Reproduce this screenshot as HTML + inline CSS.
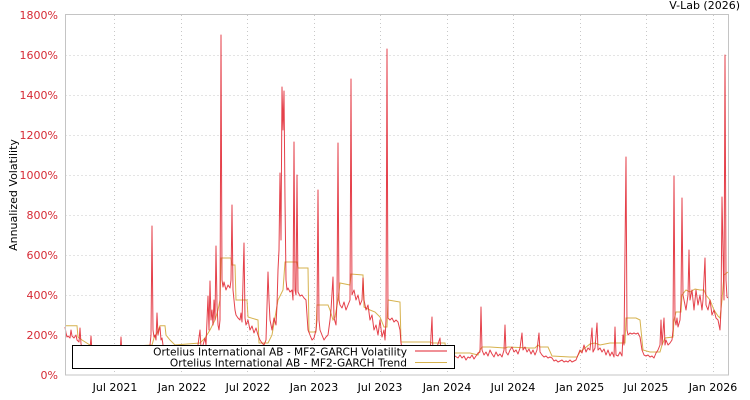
<!DOCTYPE html>
<html><head><meta charset="utf-8"><style>
html,body{margin:0;padding:0;background:#fff;}
svg{display:block;font-family:"DejaVu Sans","Liberation Sans",sans-serif;}
</style></head><body>
<svg width="750" height="400" viewBox="0 0 750 400" xmlns="http://www.w3.org/2000/svg">
<rect width="750" height="400" fill="#fff"/>
<text x="740" y="9" font-size="11" text-anchor="end" fill="#000">V-Lab (2026)</text>
<g stroke="#c8c8c8" stroke-width="1" stroke-dasharray="1,3">
<line x1="65.5" x2="728" y1="55.5" y2="55.5"/><line x1="65.5" x2="728" y1="95.5" y2="95.5"/>
<line x1="65.5" x2="728" y1="135.5" y2="135.5"/><line x1="65.5" x2="728" y1="175.5" y2="175.5"/>
<line x1="65.5" x2="728" y1="215.5" y2="215.5"/><line x1="65.5" x2="728" y1="255.5" y2="255.5"/>
<line x1="65.5" x2="728" y1="295.5" y2="295.5"/><line x1="65.5" x2="728" y1="335.5" y2="335.5"/>
<line x1="114.5" x2="114.5" y1="15" y2="375"/><line x1="181.5" x2="181.5" y1="15" y2="375"/>
<line x1="247.5" x2="247.5" y1="15" y2="375"/><line x1="314.5" x2="314.5" y1="15" y2="375"/>
<line x1="380.5" x2="380.5" y1="15" y2="375"/><line x1="447.5" x2="447.5" y1="15" y2="375"/>
<line x1="513.5" x2="513.5" y1="15" y2="375"/><line x1="580.5" x2="580.5" y1="15" y2="375"/>
<line x1="646.5" x2="646.5" y1="15" y2="375"/><line x1="713.5" x2="713.5" y1="15" y2="375"/>
</g>
<polyline fill="none" stroke="#d6b24e" stroke-width="1" points="65,325.7 77,325.7 78,337 82,340 90,345 100,348 152,345 154,338 157,333 160,325.7 165,325.7 166,335 170,340 175,345 200,343 205,338 210,330 215,320 218,310 220,300 221,258 231,258 232,265 235,265 236,300 247,300 248,317 258,320 259,343 268,343 272,335 278,300 283,290 285,262 297,262 298,268 308,268 309,332 316,332 317,305 328,305 330,310 333,320 335,317 338,300 340,283 350,285 351,274 363,275 364,307 370,310 375,312 380,317 384,327 387,327 388,300 400,302 401,342 430,342 432,343 445,343 446,352 455,353 470,353 478,355 480,350 482,347 490,347 505,348 508,347 530,348 535,348 538,345 540,347 548,347 552,356 570,357 577,357 580,352 585,348 590,344 595,343 600,345 605,344 610,343 615,343 620,343 625,343 626,318 636,318 640,320 643,350 650,352 660,352 662,345 665,338 673,337 674,320 676,312 681,312 682,295 686,290 690,292 695,289 700,290 704,290 706,295 710,300 714,310 718,316 720,318 722,300 724,275 728,272"/>
<polyline fill="none" stroke="#e0202c" stroke-opacity="0.85" stroke-width="1" stroke-linejoin="round" points="65,327 66,333 67,337 68,336 70,338 71,330 72,336 74,338 76,335 77,340 79,342 80,328 81,344 83,350 85,352 88,355 90,350 91,336 92,352 95,355 100,357 105,358 110,356 115,357 120,355 121,337 122,355 125,358 130,357 135,359 140,357 145,356 148,352 150,345 151,335 152,226 153,330 154,337 155,335 156,340 157,313 158,335 159,330 160,327 161,340 162,338 163,345 165,350 168,352 172,355 180,357 190,355 195,352 198,345 200,330 201,348 203,345 205,338 206,345 208,296 209,330 210,281 211,320 212,310 213,325 214,300 215,320 216,246 217,305 218,325 219,330 220,320 221,35 222,280 223,287 224,282 226,290 228,285 230,288 231,280 232,205 233,290 234,300 235,310 236,315 238,318 240,320 241,313 242,322 244,243 245,318 246,325 248,320 250,330 252,326 254,333 256,328 258,335 260,340 262,343 264,345 266,340 268,272 269,300 270,320 272,330 274,318 276,325 277,305 278,270 279,250 280,173 281,240 282,87 283,130 284,91 285,200 286,280 287,290 288,288 290,292 292,290 293,300 294,142 295,290 296,295 297,175 298,292 300,296 302,295 304,298 306,300 308,330 310,335 312,340 314,338 316,330 317,320 318,190 319,320 320,330 322,335 324,340 326,337 328,335 330,320 331,310 333,277 334,318 336,325 337,300 338,143 339,300 340,305 342,308 344,302 346,310 348,305 350,300 351,79 352,295 354,290 356,300 358,295 360,305 362,300 363,278 364,300 366,310 368,305 370,320 372,315 374,330 376,325 378,335 380,320 382,337 384,330 385,340 386,320 387,49 388,318 390,320 392,318 394,322 396,320 398,322 400,330 401,343 403,352 405,355 410,358 415,357 420,358 425,356 430,355 432,317 433,355 436,350 440,338 441,352 445,356 450,357 455,356 458,358 460,355 462,358 464,356 466,360 468,357 470,358 472,355 474,359 476,356 478,353 480,352 481,307 482,350 484,355 486,352 488,356 490,350 492,354 494,357 496,352 498,356 500,354 502,357 504,350 505,325 506,352 508,355 510,350 512,347 514,352 516,350 518,354 520,348 522,333 523,350 525,347 527,352 529,349 531,354 533,350 535,355 537,350 539,333 540,352 542,355 544,357 546,356 548,358 550,357 552,358 554,361 556,360 558,362 560,361 562,360 564,362 566,361 568,362 570,360 572,362 574,361 576,360 578,355 580,350 582,353 584,345 586,352 588,348 590,350 592,328 593,352 595,348 597,323 598,350 600,348 602,352 604,349 606,355 608,350 610,356 612,352 614,357 615,327 616,355 618,356 620,352 622,356 623,335 624,345 626,157 627,330 628,335 630,333 632,334 634,333 636,334 638,333 640,337 642,350 644,355 646,356 648,355 650,357 652,356 654,358 656,353 658,350 660,345 661,320 662,345 664,318 665,345 666,340 668,345 670,343 672,340 673,330 674,176 675,320 676,325 677,318 678,327 680,320 681,300 682,198 683,295 684,300 686,310 688,295 689,250 690,300 692,290 694,310 695,300 696,290 698,305 700,295 702,310 703,300 705,258 706,305 708,310 710,300 712,315 714,310 716,318 718,320 719,325 720,330 721,310 722,197 723,250 724,300 725,55 726,280 727,297 728,298"/>
<rect x="65.5" y="14.5" width="663" height="360.5" fill="none" stroke="#c4c4c4" stroke-width="1"/>
<g font-size="11" fill="#d62a35" text-anchor="end">
<text x="58" y="19">1800%</text><text x="58" y="59">1600%</text><text x="58" y="99">1400%</text>
<text x="58" y="139">1200%</text><text x="58" y="179">1000%</text><text x="58" y="219">800%</text>
<text x="58" y="259">600%</text><text x="58" y="299">400%</text><text x="58" y="339">200%</text>
<text x="58" y="379">0%</text>
</g>
<text transform="translate(17,195) rotate(-90)" font-size="11" text-anchor="middle" fill="#000">Annualized Volatility</text>
<g font-size="11" fill="#000" text-anchor="middle">
<text x="115" y="391">Jul 2021</text><text x="182" y="391">Jan 2022</text><text x="248" y="391">Jul 2022</text>
<text x="314" y="391">Jan 2023</text><text x="380" y="391">Jul 2023</text><text x="447" y="391">Jan 2024</text>
<text x="513" y="391">Jul 2024</text><text x="580" y="391">Jan 2025</text><text x="646" y="391">Jul 2025</text>
<text x="713" y="391">Jan 2026</text>
</g>
<rect x="72.5" y="345.5" width="382" height="23" fill="#fff" stroke="#000" stroke-width="1"/>
<g font-size="10.6" fill="#000" text-anchor="end">
<text x="407" y="355.5">Ortelius International AB - MF2-GARCH Volatility</text>
<text x="407" y="366.5">Ortelius International AB - MF2-GARCH Trend</text>
</g>
<line x1="415" x2="447" y1="351" y2="351" stroke="#e0202c" stroke-width="1"/>
<line x1="415" x2="447" y1="362.5" y2="362.5" stroke="#d6b24e" stroke-width="1"/>
</svg>
</body></html>
